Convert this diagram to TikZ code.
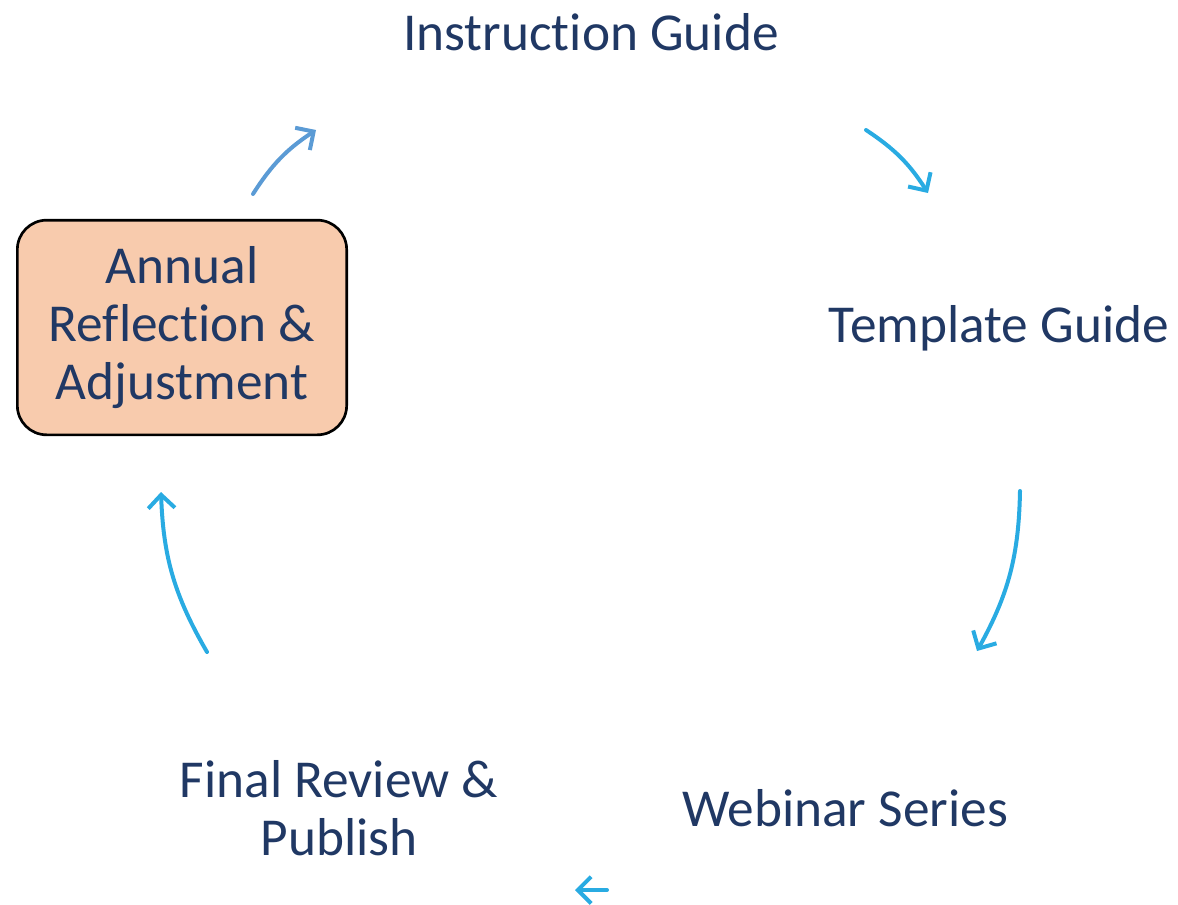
\documentclass[tikz,border=0pt]{standalone}
\usepackage{fontspec}
\setmainfont{Carlito}[RawFeature={-liga;-clig;-calt;-dlig}]
\usetikzlibrary{shapes}
\usetikzlibrary{arrows.meta}
\definecolor{navytext}{HTML}{203864}
\definecolor{peachfill}{HTML}{F8CBAD}
\definecolor{skyarrow}{HTML}{29ABE2}
\definecolor{steelarrow}{HTML}{5B9BD5}
\tikzset{
	steplabel/.style={text=navytext,align=center,font=\fontsize{40}{43.5}\selectfont},
	stepbox/.style={steplabel,draw=black,line width=2pt,fill=peachfill,rounded corners=22pt,minimum width=247pt,minimum height=161pt,inner sep=0pt},
	cyclearrow/.style={draw=skyarrow,line width=3pt,line cap=round,-{Straight Barb[length=10pt,width=20pt,line width=3pt]}}
}
\begin{document}
\begin{tikzpicture}[x=0.75pt,y=-0.75pt]
				\useasboundingbox (0,0) rectangle (1178,904);
				\node[steplabel] (instr) at (591,32) {Instruction Guide};
				\node[steplabel] (templ) at (999,328) {Template Guide};
				\node[steplabel] (webin) at (845,808) {Webinar Series};
				\node[steplabel] (final) at (339,808) {Final Review \&\\Publish};
				\node[stepbox] (annual) at (182,327.5) {Annual\\Reflection \&\\Adjustment};
				\coordinate (a1s) at (253,194);
				\coordinate (a1e) at (316,130);
				\coordinate (a2s) at (866,130);
				\coordinate (a2e) at (928,193);
				\coordinate (a3s) at (1020,491);
				\coordinate (a3e) at (977,651);
				\coordinate (a4s) at (607,890);
				\coordinate (a4e) at (575,890);
				\coordinate (a5s) at (207,652);
				\coordinate (a5e) at (161,492);
				\draw[cyclearrow,draw=steelarrow] (a1s) to[bend left=12] (a1e);
				\draw[cyclearrow] (a2s) to[bend left=12] (a2e);
				\draw[cyclearrow] (a3s) to[bend left=14] (a3e);
				\draw[cyclearrow] (a4s) -- (a4e);
				\draw[cyclearrow] (a5s) to[bend left=14] (a5e);
			\end{tikzpicture}
\end{document}
